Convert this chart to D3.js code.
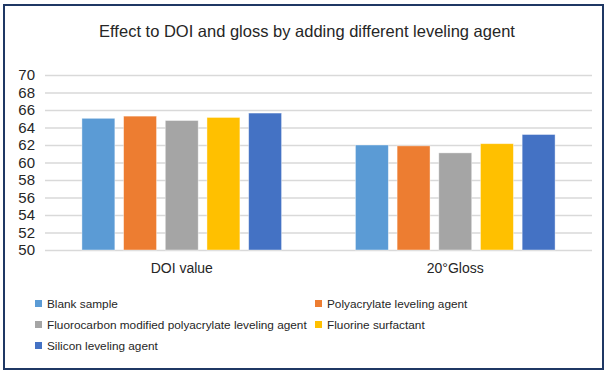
<!DOCTYPE html>
<html>
<head>
<meta charset="utf-8">
<script src="https://cdn.jsdelivr.net/npm/d3@7"></script>
<style>
  body { margin: 0; background: #fff; }
</style>
</head>
<body>
<svg width="610" height="373"></svg>
<script>
const categories = ["DOI value", "20°Gloss"]
const seriesNames = [
  "Blank sample",
  "Polyacrylate leveling agent",
  "Fluorocarbon modified polyacrylate leveling agent",
  "Fluorine surfactant",
  "Silicon leveling agent"
]
const blankValues = [65.05, 62.0]
const polyValues = [65.3, 61.9]
const fluoroPolyValues = [64.8, 61.1]
const surfactantValues = [65.15, 62.15]
const siliconValues = [65.65, 63.2]
const yTicks = [50, 52, 54, 56, 58, 60, 62, 64, 66, 68, 70]
const colors = ["#5B9BD5", "#ED7D31", "#A5A5A5", "#FFC000", "#4472C4"]
const title = "Effect to DOI and gloss by adding different leveling agent"

const allValues = [blankValues, polyValues, fluoroPolyValues, surfactantValues, siliconValues]
const font = "'Liberation Sans', Arial, sans-serif"
const textColor = "#262626"

const svg = d3.select("svg")
  .attr("font-family", font)
const width = +svg.attr("width")
const height = +svg.attr("height")

const margin = {top: 75, right: 18, bottom: 123, left: 45}
const innerWidth = width - margin.left - margin.right
const innerHeight = height - margin.top - margin.bottom

// outer frame, outline only
svg.append("path")
  .attr("d", "M4,5H603V369H4Z")
  .attr("fill", "none")
  .attr("stroke", "#1F3864")
  .attr("stroke-width", 2)

svg.append("text")
  .attr("x", 307)
  .attr("y", 37)
  .attr("text-anchor", "middle")
  .attr("font-size", 16.5)
  .attr("fill", textColor)
  .text(title)

const g = svg.append("g")
  .attr("transform", `translate(${margin.left}, ${margin.top})`)

const yScale = d3.scaleLinear()
  .domain([50, 70])
  .range([innerHeight, 0])

const x0 = d3.scaleBand()
  .domain(categories)
  .range([0, innerWidth])
  .paddingInner(0.27)
  .paddingOuter(0.135)

const x1 = d3.scaleBand()
  .domain(seriesNames)
  .range([0, x0.bandwidth()])
  .paddingInner(0.21)

const yAxis = d3.axisLeft(yScale)
  .tickValues(yTicks)
  .tickSize(-innerWidth)
  .tickPadding(10)

const yAxisG = g.append("g").call(yAxis)
  .attr("font-size", 15)
  .attr("font-family", font)
yAxisG.select(".domain").remove()
yAxisG.selectAll(".tick line")
  .attr("stroke", "#D9D9D9")
  .attr("stroke-width", 1.3)
yAxisG.selectAll(".tick text")
  .attr("fill", textColor)

const groups = g.selectAll(".group").data(categories)
  .enter().append("g")
  .attr("class", "group")
  .attr("transform", d => `translate(${x0(d)}, 0)`)

groups.selectAll("rect")
  .data((d, i) => seriesNames.map((s, j) => ({series: s, value: allValues[j][i], color: colors[j]})))
  .enter().append("rect")
  .attr("x", d => x1(d.series))
  .attr("y", d => yScale(d.value))
  .attr("width", x1.bandwidth())
  .attr("height", d => innerHeight - yScale(d.value))
  .attr("fill", d => d.color)
  .attr("stroke", "#fff")
  .attr("stroke-opacity", 0.5)
  .attr("stroke-width", 0.8)

g.selectAll(".cat-label").data(categories)
  .enter().append("text")
  .attr("class", "cat-label")
  .attr("x", d => x0(d) + x0.bandwidth() / 2)
  .attr("y", innerHeight + 23)
  .attr("text-anchor", "middle")
  .attr("font-size", 14)
  .attr("fill", textColor)
  .text(d => d)

// legend: two columns, three rows
const legendCols = [35, 315]
const legendRows = [304, 325, 346]
const legend = svg.selectAll(".legend").data(seriesNames)
  .enter().append("g")
  .attr("class", "legend")
  .attr("transform", (d, i) => `translate(${legendCols[i % 2]}, ${legendRows[Math.floor(i / 2)]})`)

legend.append("rect")
  .attr("x", 0).attr("y", -4)
  .attr("width", 7).attr("height", 7)
  .attr("fill", (d, i) => colors[i])

legend.append("text")
  .attr("x", 12)
  .attr("y", 4)
  .attr("font-size", 11.8)
  .attr("fill", textColor)
  .text(d => d)
</script>
</body>
</html>
